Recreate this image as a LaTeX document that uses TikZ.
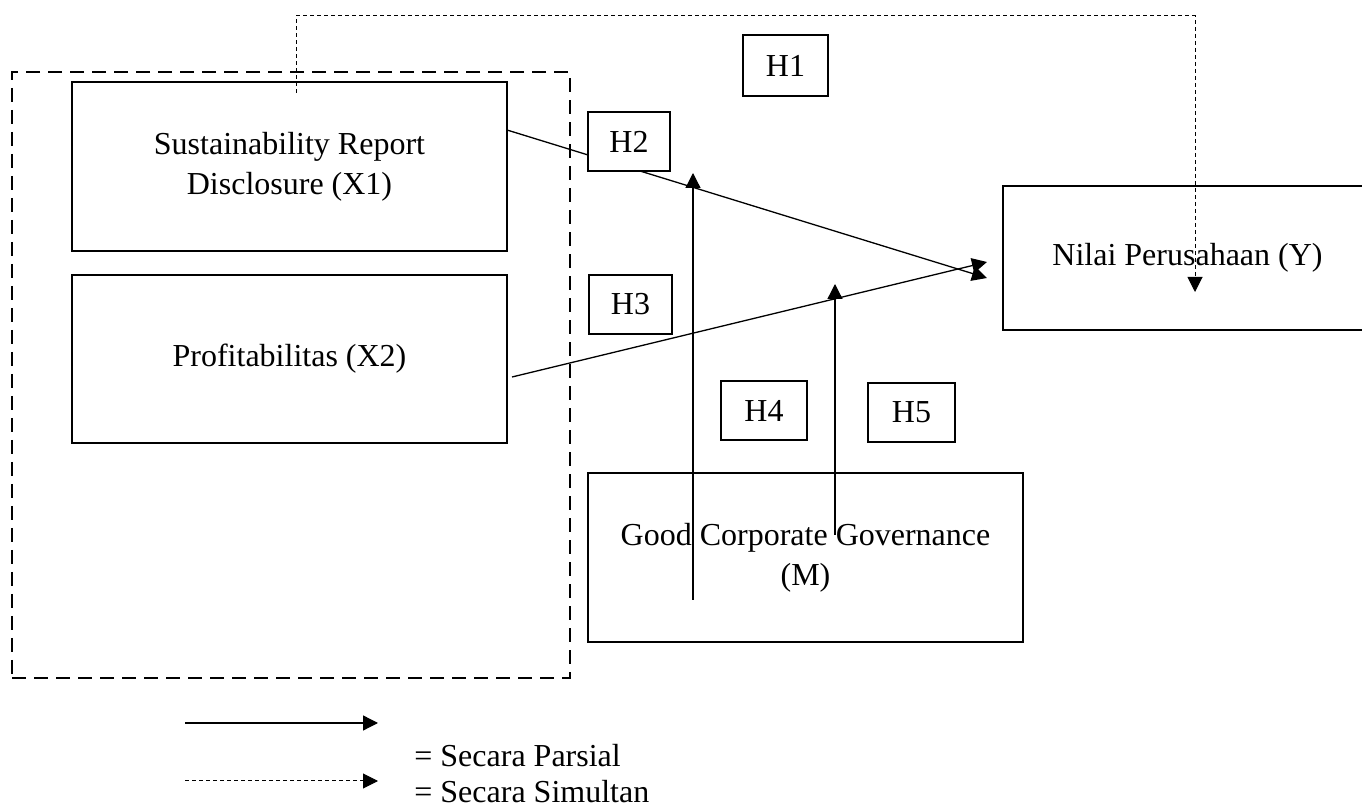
\documentclass[tikz,border=0pt]{standalone}
\usepackage{fontspec}
\setmainfont{Liberation Serif}
\usetikzlibrary{arrows.meta}

\tikzset{
  varbox/.style={draw, line width=1pt, fill=white, align=center, inner sep=0pt},
  hbox/.style={draw, line width=0.9pt, fill=white, inner sep=0pt, minimum height=29.5pt},
  groupbox/.style={draw, line width=1.2pt, dash pattern=on 7pt off 4pt, inner sep=0pt},
  partial/.style={line width=0.65pt, -{Triangle[length=7.5pt,width=7.5pt]}},
  simul/.style={line width=0.5pt, dash pattern=on 2pt off 1.5pt, -{Triangle[length=7.5pt,width=7.5pt]}}
}

\begin{document}
\begin{tikzpicture}[x=0.5pt,y=-0.5pt,font=\fontsize{16}{20}\selectfont]
\useasboundingbox (0,0) rectangle (1362,807);
\def\boxw{217.5pt}

% variables
\node[groupbox, minimum width=279pt, minimum height=303pt] (grp) at (291,375) {};
\node[varbox, minimum width=\boxw, minimum height=84.5pt] (x1) at (289.5,166.5) {Sustainability Report\\Disclosure (X1)};
\node[varbox, minimum width=\boxw, minimum height=84pt] (x2) at (289.5,359) {Profitabilitas (X2)};
\node[varbox, minimum width=184.5pt, minimum height=72pt] (y) at (1187.5,258) {Nilai Perusahaan (Y)};
\node[varbox, minimum width=\boxw, minimum height=84.5pt] (m) at (805.5,557.5) {Good Corporate Governance\\(M)};

\coordinate (x1out) at (507,130);
\coordinate (x2out) at (512,377);
\coordinate (yin1) at (987,278);
\coordinate (yin2) at (987,262);
\coordinate (m1) at (693,600);
\coordinate (m1top) at (693,173);
\coordinate (m2) at (835,535);
\coordinate (m2top) at (835,284);
\coordinate (simstart) at (296,93);
\coordinate (simend) at (1195,292);

% connectors
\draw[partial] (x1out) -- (yin1);
\draw[partial] (x2out) -- (yin2);
\draw[partial] (m1) -- (m1top);
\draw[partial] (m2) -- (m2top);
\draw[simul] (simstart) -- (296,16) -- (1195,16) -- (simend);

% hypotheses
\node[hbox, minimum width=42.5pt, minimum height=30.5pt] (h1) at (785.5,65.5) {H1};
\node[hbox, minimum width=41pt] (h2) at (629,141.5) {H2};
\node[hbox, minimum width=41.5pt] (h3) at (630.5,304.5) {H3};
\node[hbox, minimum width=43pt] (h4) at (764,410.5) {H4};
\node[hbox, minimum width=43.5pt] (h5) at (911.5,412.5) {H5};

% legend
\coordinate (lg1a) at (185,723);
\coordinate (lg1b) at (378,723);
\coordinate (lg2a) at (185,781);
\coordinate (lg2b) at (378,781);
\draw[partial] (lg1a) -- (lg1b);
\draw[simul] (lg2a) -- (lg2b);
\node[anchor=base west, inner sep=0pt] (lgt1) at (414,767) {= Secara Parsial};
\node[anchor=base west, inner sep=0pt] (lgt2) at (414,803) {= Secara Simultan};

\end{tikzpicture}
\end{document}
